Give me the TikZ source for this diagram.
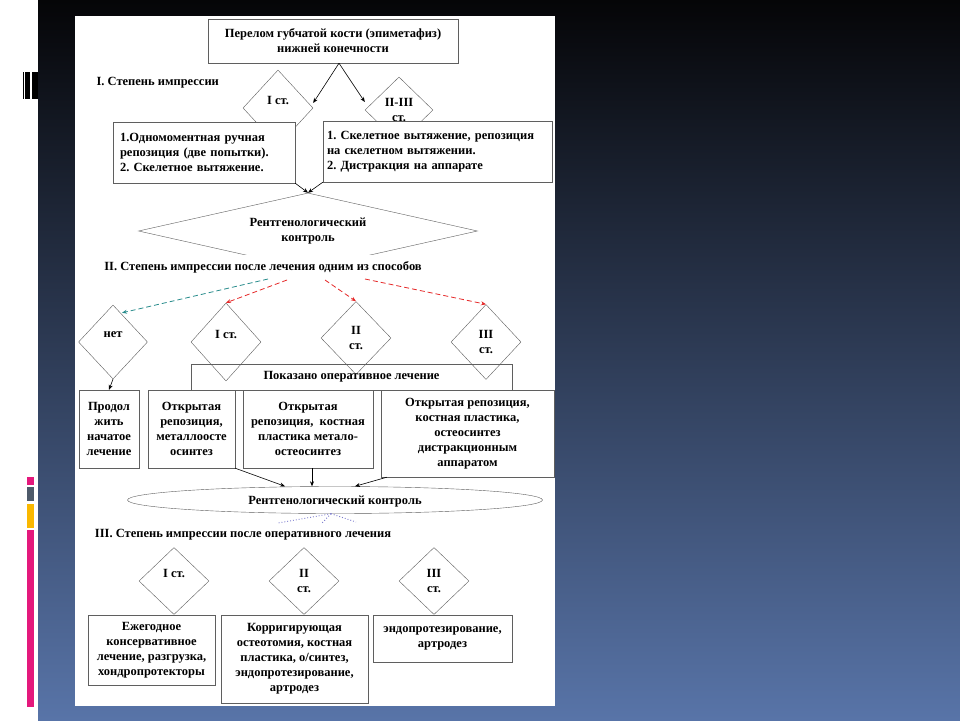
\documentclass[tikz,border=0pt]{standalone}
\usepackage{fontspec}
\setmainfont{Liberation Serif}
\usetikzlibrary{arrows.meta, shapes.geometric, positioning}
\frenchspacing

\definecolor{boxgray}{RGB}{95,95,95}
\definecolor{slidetop}{RGB}{5,5,7}
\definecolor{slidemid}{RGB}{42,54,80}
\definecolor{slidebot}{RGB}{88,116,168}
\definecolor{barpink}{RGB}{228,24,124}
\definecolor{bargray}{RGB}{78,90,106}
\definecolor{baryellow}{RGB}{250,184,0}
\definecolor{dashteal}{RGB}{40,140,140}
\definecolor{dashred}{RGB}{230,40,40}
\definecolor{dotblue}{RGB}{120,120,205}

\tikzset{
  txt/.style={font=\fontsize{12.5}{15}\selectfont\bfseries},
  box/.style={txt, draw=boxgray, fill=white, align=center, inner sep=3pt},
  dia/.style={txt, diamond, draw=boxgray, fill=white, align=center, inner sep=0pt},
  head/.style={txt, fill=white, inner sep=4pt},
  arr/.style={-{Stealth[length=5pt,width=4pt]}, line width=0.6pt},
  dasharr/.style={-{Stealth[length=5pt,width=4pt]}, line width=0.8pt, dash pattern=on 5pt off 3pt},
}

\begin{document}
\begin{tikzpicture}[x=1pt, y=-1pt]
  \useasboundingbox (0,0) rectangle (960,720);
  % slide background
  \fill[white] (0,0) rectangle (960,720);
  \shade[top color=slidetop, middle color=slidemid, bottom color=slidebot] (38,0) rectangle (960,720);
  \fill[white] (75,16) rectangle (555,706);
  \foreach \xa/\xb in {23/24.2, 25.3/26.5, 27.4/29.5, 32.3/37.5}
    \fill[black] (\xa,72) rectangle (\xb,99);
  \fill[barpink] (27,477) rectangle (34,485);
  \fill[bargray] (27,487) rectangle (34,501);
  \fill[baryellow] (27,504) rectangle (34,528);
  \fill[barpink] (27,530) rectangle (34,707);

  % Level I
  \node[dia, minimum width=70pt, minimum height=76pt] (dI1) at (278,108) {I ст.\\\mbox{}};
  \node[dia, minimum width=68pt, minimum height=66pt] (dII1) at (399,110) {II-III\\ст.};
  \node[box, minimum width=250pt, minimum height=44pt] (top) at (333,41)
    {Перелом губчатой кости (эпиметафиз)\\нижней конечности};
  \node[txt, anchor=west] (stage1) at (93,83) {I. Степень импрессии};
  \node[box, align=left, text width=168pt, inner xsep=7pt, minimum height=61pt] (lbox) at (204,152.5)
    {1.Одномоментная ручная\\репозиция (две попытки).\\2. Скелетное вытяжение.};
  \node[box, align=left, text width=221pt, inner xsep=4pt, minimum height=61pt] (rbox) at (437.5,151.5)
    {1. Скелетное вытяжение, репозиция\\на скелетном вытяжении.\\2. Дистракция на аппарате};
  \draw[arr] ([xshift=6pt]top.south) -- ([yshift=5pt]dI1.east);
  \draw[arr] ([xshift=6pt]top.south) -- ([yshift=8pt]dII1.west);

  % first X-ray check
  \node[dia, aspect=4.46, minimum width=339pt, minimum height=76pt] (rk1) at (308,231)
    {Рентгенологический\\контроль};
  \draw[arr] (lbox.south east) -- (rk1.north);
  \draw[arr] (rbox.south west) -- (rk1.north);
  \node[head, inner ysep=6pt] (stage2) at (263,267)
    {II. Степень импрессии после лечения одним из способов};

  % Level II
  \node[dia, minimum width=69pt, minimum height=74pt] (net) at (113,342) {нет\\\mbox{}};
  \node[dia, minimum width=70pt, minimum height=78pt] (d2a) at (226,342) {I ст.\\\mbox{}};
  \node[dia, minimum width=70pt, minimum height=73pt] (d2b) at (356,338) {II\\ст.};
  \node[dia, minimum width=70pt, minimum height=75pt] (d2c) at (486,342) {III\\ст.};
  \coordinate (s2a) at (268,279);
  \coordinate (s2b) at (287,280);
  \coordinate (s2c) at (325,280);
  \coordinate (s2d) at (365,279);
  \draw[dasharr, dashteal] (s2a) -- ([xshift=9pt,yshift=-8pt]net.north);
  \draw[dasharr, dashred] (s2b) -- (d2a.north);
  \draw[dasharr, dashred] (s2c) -- (d2b.north);
  \draw[dasharr, dashred] (s2d) -- (d2c.north);
  \node[txt, draw=boxgray, minimum width=321pt, minimum height=26pt] (pokaz) at (351.5,377)
    {Показано оперативное лечение};
  \node[box, minimum width=60pt, minimum height=78pt, inner xsep=1pt] (b2a) at (109,429)
    {Продол\\жить\\начатое\\лечение};
  \node[box, minimum width=87pt, minimum height=78pt, inner xsep=1pt] (b2b) at (191.5,429)
    {Открытая\\репозиция,\\металлоосте\\осинтез};
  \node[box, minimum width=130pt, minimum height=78pt] (b2c) at (308,429)
    {Открытая\\репозиция,~ костная\\пластика метало-\\остеосинтез};
  \node[box, minimum width=173pt, minimum height=87pt] (b2d) at (467.5,433.5)
    {Открытая репозиция,\\костная пластика,\\остеосинтез\\дистракционным\\аппаратом};
  \draw[arr] (net.south) -- (b2a.north);

  % second X-ray check
  \node[txt, ellipse, draw=boxgray, fill=white, inner sep=0pt, text height=12pt,
        minimum width=415pt, minimum height=27pt] (rk2) at (335,500)
    {Рентгенологический контроль};
  \draw[arr] (b2b.south east) -- ([xshift=-50pt]rk2.north);
  \draw[arr] ([xshift=4pt]b2c.south) -- ([xshift=4pt]b2c.south |- rk2.north);
  \draw[arr] ([xshift=6pt]b2d.south west) -- ([xshift=20pt]rk2.north);
  \coordinate (s3a) at (278,523);
  \coordinate (s3b) at (322,523);
  \coordinate (s3c) at (356,522);
  \foreach \c in {s3a, s3b, s3c}
    \draw[dotblue, line width=0.9pt, dotted] ([xshift=-4pt]rk2.south) -- (\c);
  \node[head, inner ysep=3pt] (stage3) at (243,535)
    {III. Степень импрессии после оперативного лечения};

  % Level III
  \node[dia, minimum width=70pt, minimum height=67pt] (e1) at (174,581) {I ст.\\\mbox{}};
  \node[dia, minimum width=70pt, minimum height=67pt] (e2) at (304,581) {II\\ст.};
  \node[dia, minimum width=70pt, minimum height=67pt] (e3) at (434,581) {III\\ст.};
  \node[box, minimum width=127pt, minimum height=70pt] (c1) at (151.5,650)
    {Ежегодное\\консервативное\\лечение, разгрузка,\\хондропротекторы};
  \node[box, minimum width=147pt, minimum height=88pt] (c2) at (294.5,659)
    {Корригирующая\\остеотомия, костная\\пластика, о/синтез,\\эндопротезирование,\\артродез};
  \node[box, minimum width=139pt, minimum height=47pt] (c3) at (442.5,638.5)
    {эндопротезирование,\\артродез};
\end{tikzpicture}
\end{document}
